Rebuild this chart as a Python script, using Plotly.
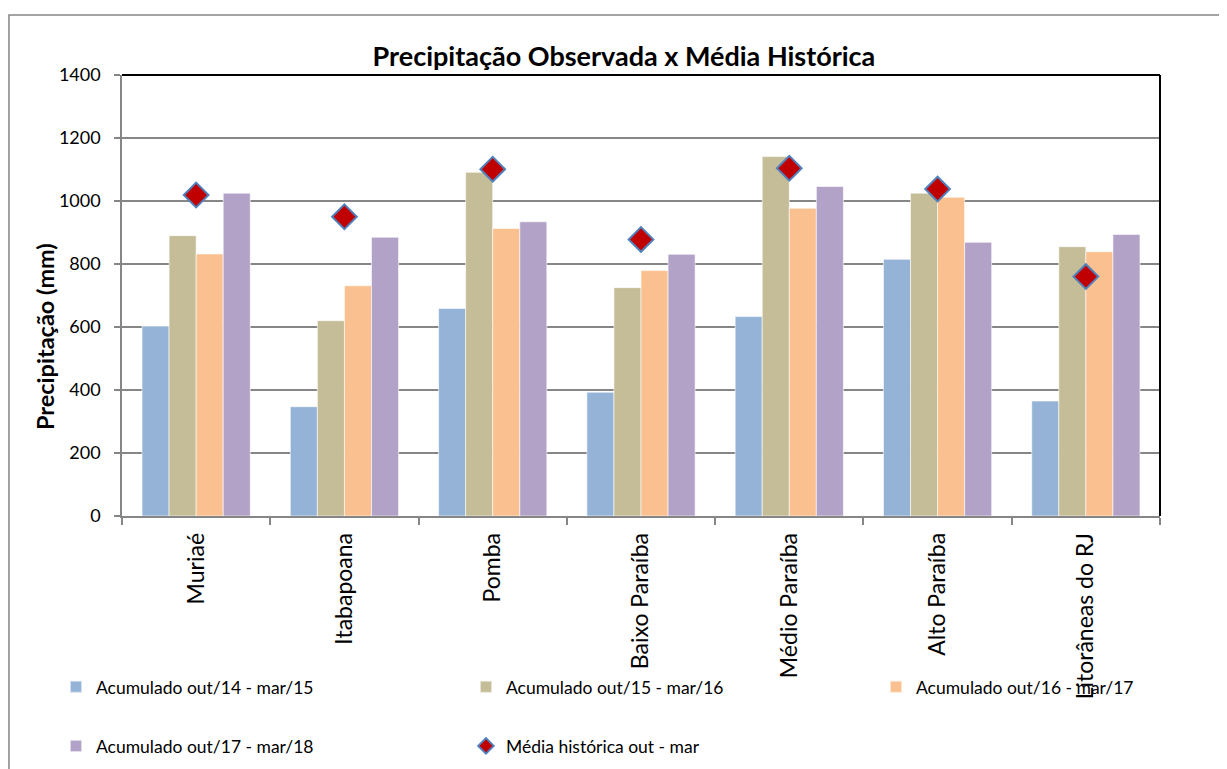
import plotly.graph_objects as go

categories = ["Muriaé", "Itabapoana", "Pomba", "Baixo Paraíba", "Médio Paraíba", "Alto Paraíba", "Litorâneas do RJ"]
acum_14_15 = [603, 347, 659, 393, 633, 815, 365]
acum_15_16 = [890, 620, 1091, 725, 1141, 1025, 855]
acum_16_17 = [832, 731, 913, 779, 977, 1012, 839]
acum_17_18 = [1025, 885, 934, 831, 1046, 869, 894]
media_historica = [1019, 950, 1101, 878, 1104, 1038, 760]

series_names = ["Acumulado out/14 - mar/15", "Acumulado out/15 - mar/16",
                "Acumulado out/16 - mar/17", "Acumulado out/17 - mar/18"]
series_values = [acum_14_15, acum_15_16, acum_16_17, acum_17_18]
colors = ["#95B3D7", "#C4BD97", "#FAC090", "#B3A2C7"]
legend_ids = ["legend", "legend2", "legend3", "legend4"]

FONT = "Lato"

fig = go.Figure()
for name, vals, col, lg in zip(series_names, series_values, colors, legend_ids):
    fig.add_trace(go.Bar(
        x=categories, y=vals, name=name, legend=lg,
        marker=dict(color=col, line=dict(color="rgba(255,255,255,0.6)", width=1)),
    ))
fig.add_trace(go.Scatter(
    x=categories, y=media_historica, name="Média histórica out - mar",
    mode="markers", legend="legend5",
    marker=dict(symbol="diamond", size=19, color="#C00000",
                line=dict(color="#4F81BD", width=2)),
))

def lg(x, y):
    return dict(x=x, y=y, orientation="h", xanchor="left", yanchor="middle",
                font=dict(family=FONT, size=17.5, color="black"),
                itemsizing="constant", bgcolor="rgba(0,0,0,0)")

row1, row2 = -0.3876, -0.5216
col1, col2, col3 = -0.0636, 0.3314, 0.7264

fig.update_layout(
    width=1219, height=761,
    margin=dict(l=114, r=67, t=67, b=253, autoexpand=False),
    paper_bgcolor="white", plot_bgcolor="white",
    barmode="group", bargap=0.27, bargroupgap=0,
    font=dict(family=FONT, size=17, color="black"),
    title=dict(text="<b>Precipitação Observada x Média Histórica</b>",
               x=0.5053, xanchor="center", y=0.9356, yanchor="middle",
               font=dict(family=FONT, size=27, color="black")),
    legend=lg(col1, row1),
    legend2=lg(col2, row1),
    legend3=lg(col3, row1),
    legend4=lg(col1, row2),
    legend5=lg(col2, row2),
    showlegend=True,
)

fig.update_xaxes(
    type="category", tickangle=-90, ticks="outside", tickson="boundaries",
    ticklen=7, tickcolor="#868686", tickwidth=1.5, ticklabelstandoff=6,
    showline=True, linecolor="#868686", linewidth=1.5,
    showgrid=False, tickfont=dict(family=FONT, size=23, color="black"),
)
fig.update_yaxes(
    range=[0, 1400], dtick=200, ticks="outside", ticklen=6,
    tickcolor="#868686", tickwidth=1.5, ticklabelstandoff=10,
    showline=True, linecolor="#868686", linewidth=1.5,
    showgrid=True, gridcolor="#868686", gridwidth=1.5,
    zeroline=False,
    tickfont=dict(family=FONT, size=18, color="black"),
)

# y-axis title (placed like the original, slightly below plot centre)
fig.add_annotation(text="<b>Precipitação (mm)</b>", textangle=-90,
                   xref="paper", yref="paper", x=-0.0742, y=0.408,
                   xanchor="center", yanchor="middle", showarrow=False,
                   font=dict(family=FONT, size=23.5, color="black"))

# black top and right plot-area border
fig.add_shape(type="line", xref="paper", yref="paper", x0=0, x1=1, y0=1, y1=1,
              line=dict(color="black", width=2))
fig.add_shape(type="line", xref="paper", yref="paper", x0=1, x1=1, y0=0, y1=1,
              line=dict(color="black", width=2))
# outer chart frame
fig.add_shape(type="rect", xref="paper", yref="paper",
              x0=-0.1089, x1=1.2, y0=-0.7, y1=1.136,
              line=dict(color="#868686", width=1.5), layer="below")

fig.write_html("out.html")
